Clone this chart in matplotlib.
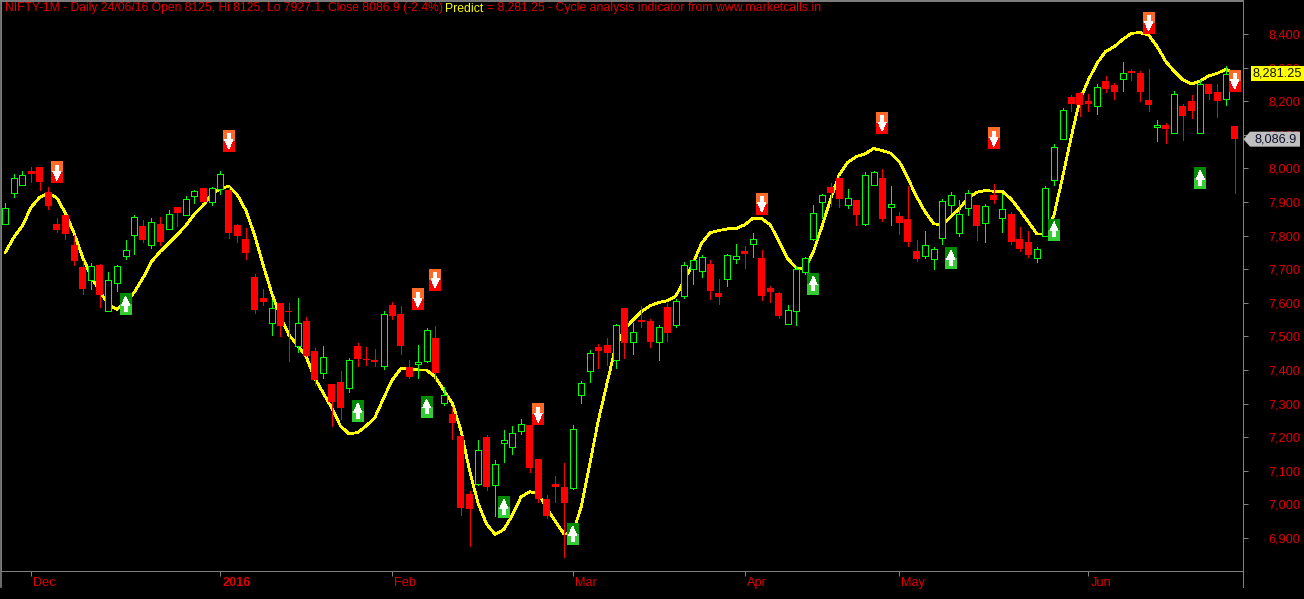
import numpy as np
import matplotlib
matplotlib.use('Agg')
import matplotlib.pyplot as plt
from matplotlib.patches import Polygon, Rectangle
from matplotlib.lines import Line2D
from matplotlib.transforms import ScaledTranslation

# Daily OHLC
opens = [7835,7928,7952,7992,8004,7930,7834,7861,7772,7707,7667,7712,7577,7660,7738,7803,7829,7773,7834,7821,7885,7862,7919,7942,7901,7940,7936,7832,7790,
         7677,7614,7541,7599,7575,7472,7546,7457,7391,7358,7364,7347,7471,7433,7430,7413,7593,7567,7408,7418,7428,7495,7302,7269,7204,7031,7062,7201,7059,7184,7172,7219,7236,7135,7016,7061,7052,7049,7327,7398,7468,
         7474,7431,7585,7484,7549,7546,7484,7588,7535,7621,7702,7696,7716,7629,7672,7731,7754,7776,7733,7644,7629,7538,7577,7693,7791,7901,
         7945,7971,7892,7906,7833,7952,7971,7886,7858,7849,7754,7739,7731,7794,7892,7809,7883,7891,7838,7921,7853,7864,7790,7781,7734,7800,7964,8088,
         8213,8223,8201,8187,8260,8248,8265,8290,8283,8204,8122,8128,8104,8185,8201,8104,8251,8227,8206,8125]
closes = [7881,7970,7979,7984,7960,7888,7817,7805,7724,7641,7709,7623,7667,7709,7756,7854,7787,7839,7781,7863,7867,7908,7932,7900,7941,7982,7808,7799,7748,
          7579,7602,7584,7531,7573,7539,7442,7370,7438,7305,7287,7429,7433,7431,7424,7566,7561,7471,7379,7424,7518,7391,7325,7242,6989,6986,7161,7052,7119,7191,7212,7238,7108,7016,6966,7052,7004,7226,7360,7450,7457,
          7451,7533,7480,7512,7543,7483,7527,7510,7604,7712,7726,7735,7635,7617,7741,7738,7745,7789,7620,7632,7561,7578,7700,7732,7866,7920,
          7927,7909,7911,7861,7979,7988,7849,7893,7838,7781,7730,7771,7759,7902,7920,7863,7926,7829,7887,7906,7878,7781,7760,7742,7759,7941,8063,8173,
          8192,8189,8192,8241,8236,8227,8283,8283,8227,8189,8128,8117,8221,8156,8171,8250,8222,8201,8280,8086.9]
highs = [7896,7982,7992,8004,8004,7945,7852,7861,7801,7724,7717,7715,7692,7712,7786,7861,7846,7852,7855,7876,7885,7917,7935,7942,7944,7992,7945,7834,7823,
         7686,7641,7608,7599,7599,7614,7558,7466,7471,7358,7397,7436,7480,7468,7463,7576,7602,7590,7430,7474,7525,7531,7349,7290,7204,7040,7192,7207,7132,7221,7233,7254,7236,7135,7028,7085,7123,7236,7367,7460,7477,
         7495,7537,7585,7540,7591,7552,7534,7599,7611,7721,7733,7742,7727,7671,7745,7775,7769,7808,7757,7650,7632,7594,7710,7736,7891,7924,
         7957,7977,7939,7906,7989,7992,7998,7948,7870,7948,7787,7814,7766,7909,7930,7906,7936,7891,7894,7954,7924,7870,7826,7814,7766,7948,8073,8180,
         8218,8227,8221,8251,8275,8254,8317,8296,8290,8296,8144,8135,8230,8192,8218,8263,8251,8251,8305,8125]
lows = [7835,7916,7952,7960,7937,7879,7811,7790,7712,7626,7641,7587,7577,7635,7730,7745,7781,7763,7772,7821,7829,7862,7897,7900,7891,7924,7793,7781,7730,
        7570,7593,7504,7501,7427,7454,7442,7355,7376,7233,7254,7335,7412,7415,7412,7403,7552,7448,7376,7376,7424,7370,7296,7195,6968,6876,7058,7043,6966,7126,7150,7210,7096,7007,6960,7007,6845,7046,7302,7364,7406,
        7415,7406,7436,7448,7528,7468,7430,7486,7528,7614,7656,7677,7611,7596,7650,7718,7704,7736,7608,7602,7555,7538,7534,7686,7787,7852,
        7888,7885,7882,7832,7832,7952,7843,7832,7805,7769,7724,7733,7701,7775,7867,7799,7861,7787,7781,7897,7811,7775,7754,7736,7721,7800,7951,8088,
        8171,8156,8171,8162,8227,8207,8230,8263,8201,8171,8082,8076,8104,8085,8150,8104,8207,8153,8189,7927.1]

# Yellow cycle line, one value a bar
cycle = [7750,7795,7830,7884,7914,7926,7912,7866,7807,7735,7678,7633,7595,7580,7603,7631,7673,7722,7752,7777,7802,7830,7864,7890,7921,7941,7946,7921,7874,7802,7712,7628,7559,7504,7474,7440,
         7375,7331,7286,7233,7210,7214,7234,7259,7316,7370,7404,7405,7400,7400,7380,7340,7301,7221,7102,7003,6941,6911,6926,6969,7023,7038,7033,6988,6949,6912,6914,6993,7122,7251,
         7360,7470,7519,7549,7574,7591,7601,7606,7620,7668,7717,7777,7809,7815,7820,7821,7832,7852,7850,7832,7782,7732,7704,7702,7752,7827,7908,
         7980,8018,8035,8043,8059,8053,8045,8020,7970,7916,7871,7835,7832,7856,7881,7911,7929,7934,7932,7931,7909,7876,7841,7805,7805,7861,7975,
         8094,8204,8263,8313,8348,8362,8384,8402,8404,8397,8362,8318,8288,8263,8251,8260,8275,8283,8295,8281.25]

# Signal boxes: bar number and price at the middle of the box
sell_bars = [6, 26, 48, 50, 62, 88, 102, 115, 133, 143]
sell_prices = [7989, 8082, 7611, 7668, 7269, 7894, 8135, 8090, 8433, 8260]
buy_bars = [14, 41, 49, 58, 66, 94, 110, 122, 139]
buy_prices = [7596, 7278, 7290, 6992, 6912, 7656, 7733, 7817, 7971]

month_bars = [3, 25, 45, 66, 86, 104, 126]
month_labels = ['Dec', '2016', 'Feb', 'Mar', 'Apr', 'May', 'Jun']
price_ticks = list(range(6900, 8500, 100))

W, H = 1304, 599
BG = '#000000'
GREY = '#808080'
RED = '#ff0000'
LIME = '#00ff00'
THIN = 0.72  # one pixel at 100 dpi
plt.rcParams['font.family'] = ['Liberation Sans', 'DejaVu Sans']

fig = plt.figure(figsize=(W / 100, H / 100), dpi=100, facecolor=BG)
ax = fig.add_axes([1 / W, 28 / H, 1242 / W, 570 / H], facecolor=BG)
ax.set_xlim(-0.5, 143.98)
ax.set_ylim(6802, 8498)

bar_px = 8.596   # one bar on the x axis in pixels
price_px = 2.976  # price units per pixel
x = np.arange(len(opens))
opens, closes, highs, lows = map(np.array, (opens, closes, highs, lows))
up = closes >= opens

ax.plot(x, cycle, color='#ffff00', lw=1.25, zorder=1, antialiased=False)

colors = [LIME if u else RED for u in up]
ax.vlines(x, lows, highs, colors=colors, lw=THIN, zorder=2, antialiased=False)
ax.bar(x[~up], (opens - closes)[~up], bottom=closes[~up], width=7 / bar_px, facecolor=RED, lw=0, zorder=3, antialiased=False)
ax.bar(x[up], (closes - opens)[up], bottom=opens[up], width=6 / bar_px, facecolor=BG, edgecolor=LIME, lw=THIN, zorder=3, antialiased=False)


def signal_box(i, price, top_col, bottom_col, arrow_up):
    w = 12 / bar_px
    h = 22 * price_px
    ax.add_patch(Rectangle((i - w / 2, price), w, h / 2, facecolor=top_col, lw=0, zorder=4, antialiased=False))
    ax.add_patch(Rectangle((i - w / 2, price - h / 2), w, h / 2, facecolor=bottom_col, lw=0, zorder=4, antialiased=False))
    # arrow outline in pixels from the centre of the box
    shape = [(0, 8), (-4, -1), (-1.5, -1), (-1.5, -7), (1.5, -7), (1.5, -1), (4, -1)]
    sign = 1 if arrow_up else -1
    pts = [(i + px / bar_px, price + sign * py * price_px) for px, py in shape]
    ax.add_patch(Polygon(pts, closed=True, facecolor='white', lw=0, zorder=5, antialiased=False))


for i, p in zip(sell_bars, sell_prices):
    signal_box(i, p, '#ff6a28', '#ff0000', False)
for i, p in zip(buy_bars, buy_prices):
    signal_box(i, p, '#008a00', '#33cc33', True)

# axes
for s in ax.spines.values():
    s.set_color(GREY)
    s.set_linewidth(THIN)
ax.spines['top'].set_linewidth(1.4)
ax.yaxis.tick_right()
ax.set_yticks(price_ticks, [f'{p:,}' for p in price_ticks])
ax.tick_params(axis='y', length=3.6, width=THIN, color=GREY, labelcolor='#e00000', labelsize=9.2, pad=14.5)
ax.set_xticks(month_bars, month_labels)
ax.tick_params(axis='x', length=3.6, width=THIN, color=GREY, labelcolor='#e00000', labelsize=9.2, pad=1)
for lab in ax.get_xticklabels():
    lab.set_ha('left')
    lab.set_transform(lab.get_transform() + ScaledTranslation(1.5 / 72, 0, fig.dpi_scale_trans))
    if lab.get_text() == '2016':
        lab.set_fontweight('bold')

fig.add_artist(Line2D([0.5 / W, 0.5 / W], [1, 12 / H], color=GREY, lw=1.2))
fig.add_artist(Line2D([1243 / W, 1243 / W], [28 / H, 12 / H], color=GREY, lw=THIN))

# title, three colours
title_y = 1 - 8.5 / H
fig.text(5 / W, title_y, 'NIFTY-1M - Daily 24/06/16 Open 8125, Hi 8125, Lo 7927.1, Close 8086.9 (-2.4%)',
         color='#e00000', fontsize=8.7, va='center')
fig.text(445.5 / W, title_y, 'Predict', color='#ffff00', fontsize=8.83, va='center')
fig.text(487 / W, title_y, '= 8,281.25 - Cycle analysis indicator from www.marketcalls.in',
         color='#e00000', fontsize=8.83, va='center')

# value badges on the price axis
y_pred = ax.transData.transform((0, cycle[-1]))[1]
y_close = ax.transData.transform((0, closes[-1]))[1]
fig.add_artist(Rectangle((1251, y_pred - 7.5), 53, 15, facecolor='#ffff00', lw=0, transform=None))
fig.text(1277.5 / W, y_pred / H, f'{cycle[-1]:,.2f}', color='#101010', fontsize=9.2, ha='center', va='center')
fig.add_artist(Polygon([(1243.5, y_close), (1250, y_close + 7.5), (1300, y_close + 7.5), (1300, y_close - 7.5), (1250, y_close - 7.5)],
                       closed=True, facecolor='#c0c0c0', lw=0, transform=None))
fig.text(1275.5 / W, y_close / H, f'{closes[-1]:,.1f}', color='#101030', fontsize=9.2, ha='center', va='center')

plt.savefig('out.png', dpi=100, facecolor=BG)
